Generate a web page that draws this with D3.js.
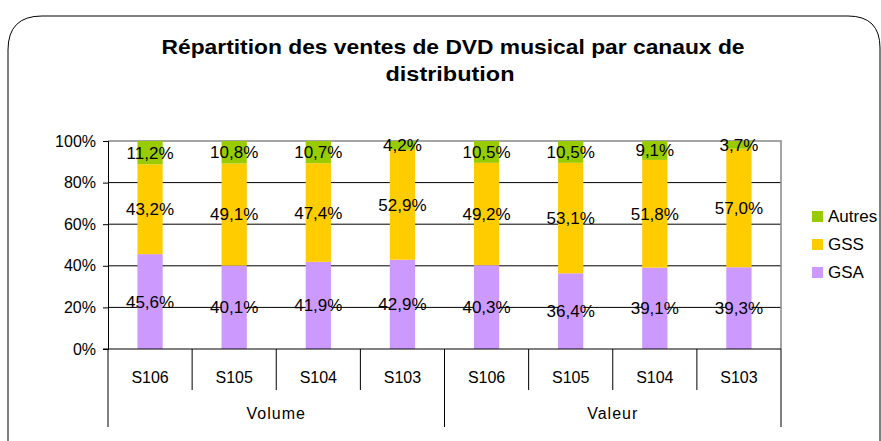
<!DOCTYPE html>
<html><head><meta charset="utf-8">
<script src="https://cdn.jsdelivr.net/npm/d3@7"></script>
<style>body{margin:0;background:#fff}svg{display:block;font-family:"Liberation Sans",Arial,sans-serif}</style>
</head><body>
<svg id="c" width="881" height="441"></svg>
<script>
const categories = ["S106","S105","S104","S103","S106","S105","S104","S103"];
const groups = ["Volume","Valeur"];
const seriesNames = ["GSA","GSS","Autres"];
const GSA = [45.6,40.1,41.9,42.9,40.3,36.4,39.1,39.3];
const GSS = [43.2,49.1,47.4,52.9,49.2,53.1,51.8,57.0];
const Autres = [11.2,10.8,10.7,4.2,10.5,10.5,9.1,3.7];
const yTicks = [0,20,40,60,80,100];
const colors = {GSA:"#cc99ff", GSS:"#ffcc00", Autres:"#99cc00"};

const svg = d3.select("#c");
const L=108, R=781, T=141, B=349;
const fmt = v => v.toFixed(1).replace(".", ",") + "%";

// frame
svg.append("path").attr("d","M8,441 L8,50 Q8,16 42,16 L848,16 Q880,16 880,48 L880,441")
  .attr("fill","none").attr("stroke","#000").attr("stroke-width",1);

svg.append("text").attr("x",453).attr("y",54).attr("text-anchor","middle")
  .attr("font-size",21).attr("font-weight","bold")
  .attr("textLength",583).attr("lengthAdjust","spacingAndGlyphs")
  .text("Répartition des ventes de DVD musical par canaux de");
svg.append("text").attr("x",450).attr("y",81).attr("text-anchor","middle")
  .attr("font-size",21).attr("font-weight","bold")
  .attr("textLength",129).attr("lengthAdjust","spacingAndGlyphs")
  .text("distribution");

const idx = d3.range(categories.length);
const x = d3.scaleBand().domain(idx).range([L,R]).paddingInner(0.7).paddingOuter(0.35);
const y = d3.scaleLinear().domain([0,100]).range([B,T]);

// gridlines
svg.append("g").selectAll("line").data(yTicks.filter(t=>t>0 && t<100)).join("line")
  .attr("x1",L).attr("x2",R).attr("y1",d=>y(d)).attr("y2",d=>y(d))
  .attr("stroke","#000").attr("stroke-width",1);
// plot border top/right
svg.append("path").attr("d",`M${L},${y(100)}H${R}V${B}`).attr("fill","none").attr("stroke","#888").attr("stroke-width",1.5);

// bars
const stackData = idx.map(i=>({i, GSA:GSA[i], GSS:GSS[i], Autres:Autres[i]}));
const stack = d3.stack().keys(seriesNames)(stackData);
const gBars = svg.append("g");
stack.forEach(s=>{
  gBars.selectAll(null).data(s).join("rect")
    .attr("x",d=>x(d.data.i)).attr("width",x.bandwidth())
    .attr("y",d=>y(d[1])).attr("height",d=>y(d[0])-y(d[1]))
    .attr("fill",colors[s.key]);
});
stack.forEach(s=>{
  gBars.selectAll(null).data(s).join("text")
    .attr("x",d=>x(d.data.i)+x.bandwidth()/2)
    .attr("y",d=>(y(d[0])+y(d[1]))/2)
    .attr("dy","0.35em").attr("text-anchor","middle").attr("font-size",17).attr("fill","#000")
    .text(d=>fmt(d.data[s.key]));
});

// y axis
const yAxis = d3.axisLeft(y).tickValues(yTicks).tickSize(5).tickFormat(d=>d+"%");
const gy = svg.append("g").attr("transform",`translate(${L},0)`).call(yAxis);
gy.select(".domain").attr("stroke","#000");
gy.selectAll(".tick line").attr("stroke","#000");
gy.selectAll(".tick text").attr("font-size",16).attr("font-family","Liberation Sans, Arial").attr("fill","#000").attr("x",-12);

// x axis line
svg.append("line").attr("x1",L-5).attr("x2",R).attr("y1",B).attr("y2",B).attr("stroke","#000");
const step = (R-L)/categories.length;
// category separators
svg.append("g").selectAll("line").data(d3.range(categories.length+1)).join("line")
  .attr("x1",i=>L+i*step).attr("x2",i=>L+i*step).attr("y1",B)
  .attr("y2",i=> (i%4===0)?427:390).attr("stroke","#000");
svg.append("g").selectAll("text").data(idx).join("text")
  .attr("x",i=>L+(i+0.5)*step).attr("y",377).attr("dy","0.35em").attr("text-anchor","middle")
  .attr("font-size",16).text(i=>categories[i]);
svg.append("g").selectAll("text").data(groups).join("text")
  .attr("x",(d,g)=>L+(g*4+2)*step).attr("y",413).attr("dy","0.35em").attr("text-anchor","middle")
  .attr("font-size",16).attr("letter-spacing",1).text(d=>d);

// legend
const legendOrder = ["Autres","GSS","GSA"];
const lg = svg.append("g").selectAll("g").data(legendOrder).join("g")
  .attr("transform",(d,i)=>`translate(812,${211+i*28})`);
lg.append("rect").attr("width",11).attr("height",11).attr("fill",d=>colors[d]);
lg.append("text").attr("x",16).attr("y",5.5).attr("dy","0.35em").attr("font-size",17).text(d=>d);
</script>
</body></html>
